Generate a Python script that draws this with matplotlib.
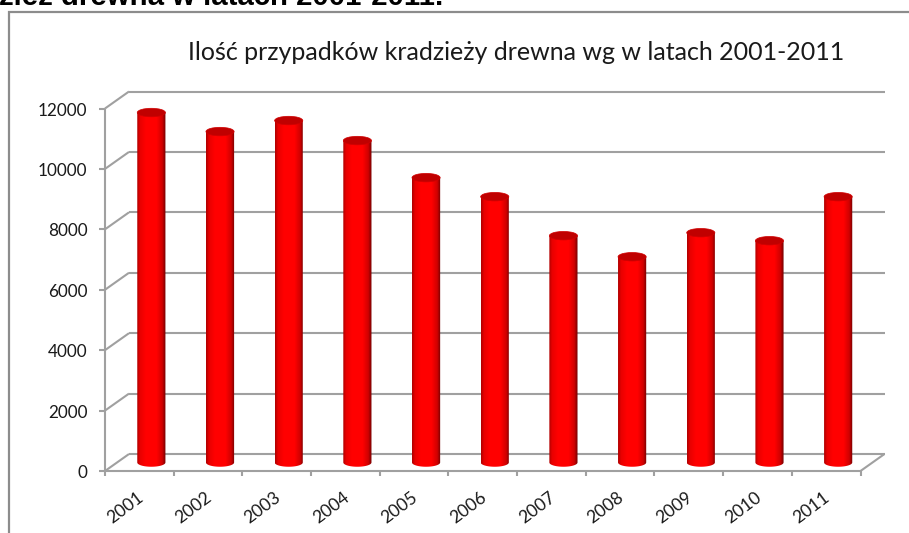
# -*- coding: utf-8 -*-
import numpy as np
import matplotlib.pyplot as plt
from matplotlib.patches import Ellipse, PathPatch
from matplotlib.path import Path
from matplotlib.colors import LinearSegmentedColormap
from matplotlib.transforms import ScaledTranslation

years = ['2001', '2002', '2003', '2004', '2005', '2006', '2007', '2008', '2009', '2010', '2011']
values = [11585, 10955, 11320, 10657, 9430, 8800, 7508, 6811, 7607, 7342, 8800]
y_ticks = [0, 2000, 4000, 6000, 8000, 10000, 12000]

W, H = 909, 533
GREY = '#a0a0a0'
plt.rcParams['font.family'] = ['Lato', 'DejaVu Sans']

fig = plt.figure(figsize=(W / 100, H / 100), dpi=100)

# whole picture frame and the cut off heading, in pixels
bg = fig.add_axes([0, 0, 1, 1])
bg.set_xlim(0, W)
bg.set_ylim(H, 0)
bg.axis('off')
bg.plot([9, 9, W + 5], [H + 5, 12, 12], color='#8c8c8c', lw=1.6, solid_joinstyle='miter')
bg.text(-1, 5, 'zież drewna w latach 2001-2011.', fontsize=21.15, fontweight='bold',
        family='Liberation Sans', ha='left', va='baseline', color='black')
bg.text(516.5, 52, 'Ilość przypadków kradzieży drewna wg w latach 2001-2011', fontsize=18,
        ha='center', va='center', color='#1a1a1a')

# plot area is the plane through the middle of the depth
left, right, y0, y12 = 117, 872.5, 462.5, 100
ax = fig.add_axes([left / W, 1 - y0 / H, (right - left) / W, (y0 - y12) / H])
ax.set_xlim(-0.5, 10.5)
ax.set_ylim(0, 12000)
ax.axis('off')

# depth offsets for the front floor edge and back wall
front = ax.transData + ScaledTranslation(-12 / 100, -8.5 / 100, fig.dpi_scale_trans)
back = ax.transData + ScaledTranslation(12 / 100, 8.5 / 100, fig.dpi_scale_trans)

line_kw = dict(color=GREY, lw=1.5, clip_on=False, solid_capstyle='butt')
for t in y_ticks:
    ax.plot([-0.5, 10.5], [t, t], transform=back, zorder=1, **line_kw)
    # slanted bit from the axis to the back wall
    p0 = front.transform((-0.5, t))
    p1 = back.transform((-0.5, t))
    bg.plot([p0[0], p1[0]], [H - p0[1], H - p1[1]], **line_kw)
    bg.plot([p0[0] - 6, p0[0]], [H - p0[1], H - p0[1]], **line_kw)
    bg.text(p0[0] - 17.5, H - p0[1] + 2, str(t), ha='right', va='center', fontsize=12.3, color='#1a1a1a')

ax.plot([-0.5, -0.5], [0, 12000], transform=front, zorder=1, **line_kw)
ax.plot([-0.5, 10.5], [0, 0], transform=front, zorder=1, **line_kw)
p0 = front.transform((10.5, 0))
p1 = back.transform((10.5, 0))
bg.plot([p0[0], p1[0]], [H - p0[1], H - p1[1]], **line_kw)

for i in range(12):
    p = front.transform((i - 0.5, 0))
    bg.plot([p[0], p[0]], [H - p[1], H - p[1] + 5], **line_kw)

for i, year in enumerate(years):
    p = front.transform((i, 0))
    bg.text(p[0] - 3, H - p[1] + 18, year, rotation=37, rotation_mode='anchor', ha='right', va='top',
            fontsize=12.6, color='#1a1a1a')

# cylinders: horizontal gradient clipped to body, dark ellipse on top
cmap = LinearSegmentedColormap.from_list('cyl', [(0, '#b00000'), (0.1, '#e80000'), (0.3, '#ff0000'),
                                                 (0.68, '#ff0000'), (0.88, '#d00000'), (1, '#700000')])
grad = np.linspace(0, 1, 64).reshape(1, -1)
bar_w = 0.41
ell_h = 8.5 / (y0 - y12) * 12000
for i, v in enumerate(values):
    x0, x1 = i - bar_w / 2, i + bar_w / 2
    im = ax.imshow(grad, extent=[x0, x1, -ell_h / 2, v], cmap=cmap, aspect='auto', zorder=3, origin='lower')
    th = np.linspace(np.pi, 2 * np.pi, 30)
    verts = [(x1, v), (x0, v)] + list(zip(i + bar_w / 2 * np.cos(th), ell_h / 2 * np.sin(th)))
    verts.append((x1, v))
    clip = PathPatch(Path(verts), transform=ax.transData, fc='none', ec='none')
    ax.add_patch(clip)
    im.set_clip_path(clip)
    im.set_clip_box(fig.bbox)  # bottom curve falls under y=0, axes box would cut it
    ax.add_patch(Ellipse((i, v), bar_w, ell_h, fc='#c00000', ec='#d00000', lw=0.5, zorder=4))

ax.set_xlim(-0.5, 10.5)
ax.set_ylim(0, 12000)
fig.savefig('out.png', dpi=100)
